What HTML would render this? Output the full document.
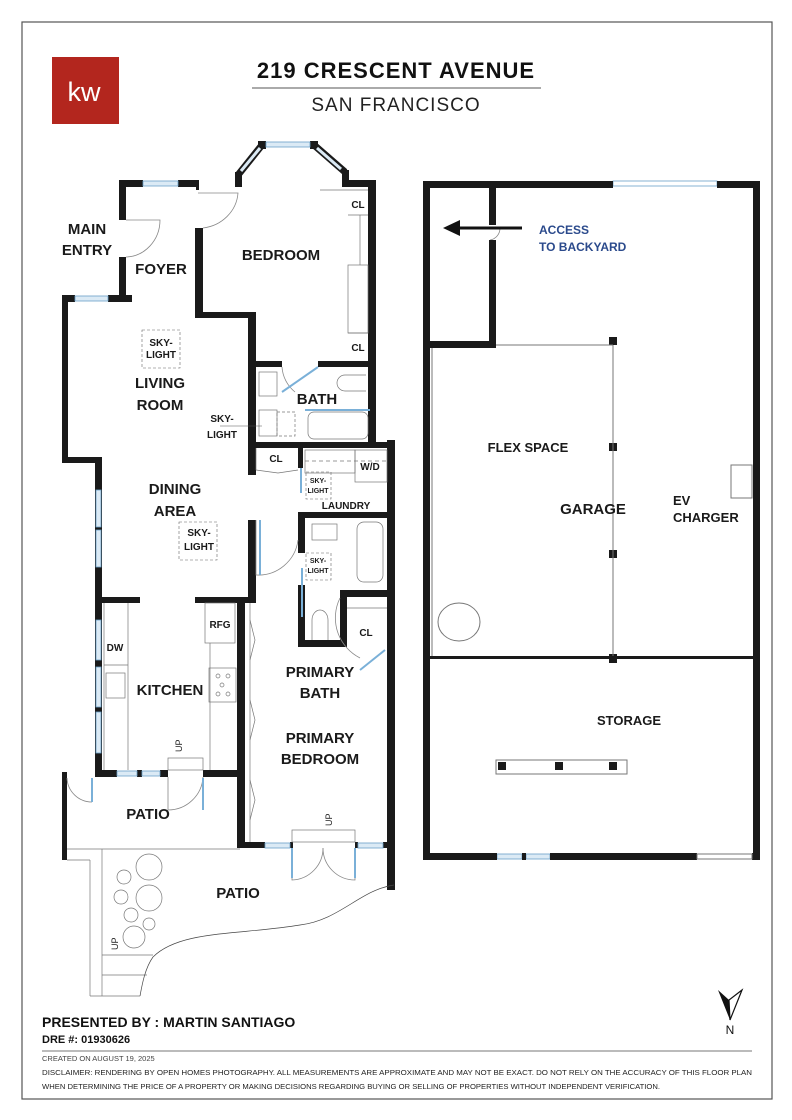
<!DOCTYPE html>
<html><head><meta charset="utf-8"><style>
html,body{margin:0;padding:0;background:#fff}
svg{display:block}
text{font-family:"Liberation Sans",sans-serif}
.rl{font-weight:bold;font-size:15px;fill:#1a1a1a;text-anchor:middle}
.sm{font-weight:bold;font-size:10px;fill:#1a1a1a;text-anchor:middle}
.tiny{font-weight:bold;font-size:7px;fill:#1a1a1a;text-anchor:middle}
.g{font-weight:bold;font-size:13px;fill:#1a1a1a;text-anchor:middle}
</style></head><body>
<svg width="792" height="1120" viewBox="0 0 792 1120" xmlns="http://www.w3.org/2000/svg">
<rect x="22" y="22" width="750" height="1077" fill="none" stroke="#555" stroke-width="1.2"/>
<!-- header -->
<rect x="52" y="57" width="67" height="67" fill="#b3261e"/>
<text x="84" y="101" font-size="27" fill="#fff" text-anchor="middle">kw</text>
<text x="396" y="78" font-size="22" font-weight="bold" text-anchor="middle" fill="#111" letter-spacing="1">219 CRESCENT AVENUE</text>
<line x1="252" y1="88" x2="541" y2="88" stroke="#555" stroke-width="1"/>
<text x="396" y="111" font-size="19" text-anchor="middle" fill="#222" letter-spacing="1">SAN FRANCISCO</text>

<g fill="#1a1a1a">
<rect x="119" y="180" width="24" height="7"/>
<rect x="178" y="180" width="20" height="7"/>
<rect x="196" y="180" width="3" height="10"/>
<rect x="235" y="172" width="7" height="15"/>
<rect x="342" y="180" width="34" height="7"/>
<rect x="342" y="170" width="7" height="17"/>
<rect x="258" y="141" width="8" height="8"/>
<rect x="310" y="141" width="8" height="8"/>
<rect x="119" y="180" width="7" height="40"/>
<rect x="119" y="257" width="7" height="45"/>
<rect x="62" y="295" width="13" height="7"/>
<rect x="108" y="295" width="24" height="7"/>
<rect x="62" y="295" width="6" height="168"/>
<rect x="62" y="457" width="40" height="6"/>
<rect x="95" y="457" width="7" height="320"/>
<rect x="195" y="228" width="8" height="90"/>
<rect x="195" y="312" width="61" height="6"/>
<rect x="248" y="312" width="8" height="163"/>
<rect x="248" y="520" width="8" height="83"/>
<rect x="368" y="180" width="8" height="268"/>
<rect x="248" y="361" width="34" height="6"/>
<rect x="318" y="361" width="58" height="6"/>
<rect x="248" y="442" width="147" height="6"/>
<rect x="387" y="440" width="8" height="450"/>
<rect x="298" y="448" width="5" height="20"/>
<rect x="298" y="512" width="97" height="6"/>
<rect x="298" y="512" width="7" height="41"/>
<rect x="298" y="585" width="7" height="62"/>
<rect x="298" y="640" width="49" height="7"/>
<rect x="340" y="590" width="7" height="57"/>
<rect x="340" y="590" width="55" height="7"/>
<rect x="95" y="597" width="45" height="6"/>
<rect x="195" y="597" width="61" height="6"/>
<rect x="237" y="597" width="8" height="251"/>
<rect x="95" y="770" width="22" height="7"/>
<rect x="137" y="770" width="5" height="7"/>
<rect x="160" y="770" width="8" height="7"/>
<rect x="203" y="770" width="42" height="7"/>
<rect x="62" y="772" width="5" height="88"/>
<rect x="240" y="842" width="25" height="6"/>
<rect x="290" y="842" width="3" height="6"/>
<rect x="355" y="842" width="3" height="6"/>
<rect x="383" y="842" width="11" height="6"/>
</g>
<!-- bay diagonals -->
<line x1="238" y1="175" x2="262" y2="145" stroke="#1a1a1a" stroke-width="7"/>
<line x1="314" y1="145" x2="345" y2="172" stroke="#1a1a1a" stroke-width="7"/>
<line x1="241" y1="171" x2="260" y2="148" stroke="#dbeaf5" stroke-width="3"/>
<line x1="317" y1="148" x2="341" y2="169" stroke="#dbeaf5" stroke-width="3"/>
<!-- windows -->
<g fill="#dbeaf5" stroke="#6aa0c8" stroke-width="0.8">
<rect x="143" y="181" width="35" height="5"/>
<rect x="75" y="296" width="33" height="5"/>
<rect x="266" y="142" width="44" height="5"/>
<rect x="96" y="490" width="5" height="37"/><rect x="96" y="530" width="5" height="37"/>
<rect x="96" y="620" width="5" height="40"/><rect x="96" y="667" width="5" height="40"/><rect x="96" y="712" width="5" height="41"/>
<rect x="117" y="771" width="20" height="5"/><rect x="142" y="771" width="18" height="5"/>
<rect x="265" y="843" width="25" height="5"/><rect x="358" y="843" width="25" height="5"/>
<rect x="497" y="854" width="25" height="5"/><rect x="526" y="854" width="24" height="5"/>
<rect x="613" y="181" width="104" height="5" fill="#fff"/>
</g>
<!-- doors -->
<g fill="none" stroke="#888" stroke-width="0.8">
<path d="M126,220 L160,220 A35,37 0 0 1 126,257"/>
<path d="M198,193 L238,193 A40,38 0 0 1 203,228"/>
<path d="M282,367 A35,35 0 0 0 295,392"/>
<path d="M256,520 L256,575 A40,40 0 0 0 298,540"/>
<path d="M67,778 A25,25 0 0 0 92,802"/>
<path d="M168,777 L168,810 A35,35 0 0 0 203,777"/>
<path d="M292,848 L292,880 A32,32 0 0 0 323,848"/>
<path d="M355,848 L355,880 A32,32 0 0 1 323,848"/>
<path d="M340,598 A45,45 0 0 0 360,658"/>
<path d="M490,228 L500,228 A12,12 0 0 1 490,240"/>
</g>
<g stroke="#7ab0d8" stroke-width="2" fill="none">
<line x1="282" y1="392" x2="318" y2="367"/>
<line x1="360" y1="670" x2="385" y2="650"/>
<line x1="92" y1="778" x2="92" y2="802"/>
<line x1="203" y1="778" x2="203" y2="810"/>
<line x1="292" y1="848" x2="292" y2="878"/>
<line x1="355" y1="848" x2="355" y2="878"/>
<line x1="260" y1="520" x2="260" y2="575"/>
<line x1="301" y1="468" x2="301" y2="493"/>
<line x1="302" y1="568" x2="302" y2="617"/>
<line x1="305" y1="410" x2="370" y2="410"/>
</g>
<g fill="none" stroke="#777" stroke-width="0.7">
<rect x="259" y="372" width="18" height="24"/>
<rect x="259" y="410" width="18" height="26"/>
<rect x="308" y="412" width="60" height="27" rx="6"/>
<path d="M366,375 L345,375 A8,8 0 0 0 345,391 L366,391"/>
<rect x="277" y="412" width="18" height="24" stroke-dasharray="3,2"/>
<line x1="320" y1="190" x2="368" y2="190"/><line x1="348" y1="215" x2="368" y2="215"/>
<line x1="360" y1="215" x2="360" y2="265"/>
<rect x="348" y="265" width="20" height="68"/>
<line x1="348" y1="333" x2="368" y2="333"/>
<line x1="256" y1="448" x2="256" y2="470"/>
<path d="M256,470 L278,473 L298,470"/>
<rect x="305" y="450" width="50" height="23"/>
<rect x="355" y="450" width="32" height="32"/>
<line x1="305" y1="461" x2="387" y2="461" stroke-dasharray="4,3"/>
<rect x="312" y="524" width="25" height="16"/>
<rect x="357" y="522" width="26" height="60" rx="7"/>
<path d="M312,640 L312,620 A8,10 0 0 1 328,620 L328,640"/>
<line x1="347" y1="608" x2="387" y2="608"/>
<line x1="104" y1="603" x2="104" y2="770"/><line x1="128" y1="603" x2="128" y2="770"/>
<line x1="104" y1="665" x2="128" y2="665"/>
<rect x="106" y="673" width="19" height="25"/>
<rect x="205" y="603" width="30" height="40"/>
<line x1="210" y1="643" x2="210" y2="770"/>
<rect x="209" y="668" width="27" height="34"/>
<circle cx="218" cy="676" r="2"/><circle cx="228" cy="676" r="2"/><circle cx="222" cy="685" r="2"/><circle cx="218" cy="694" r="2"/><circle cx="228" cy="694" r="2"/>
<rect x="168" y="758" width="35" height="12"/>
<line x1="250" y1="603" x2="250" y2="842"/>
<path d="M250,620 L255,640 L250,660 M250,700 L255,720 L250,740 M250,780 L255,800 L250,820"/>
<rect x="292" y="830" width="63" height="12"/>
<line x1="67" y1="849" x2="240" y2="849"/>
<line x1="90" y1="860" x2="90" y2="996"/><line x1="102" y1="849" x2="102" y2="996"/>
<line x1="67" y1="860" x2="90" y2="860"/>
<line x1="102" y1="955" x2="153" y2="955"/><line x1="102" y1="975" x2="147" y2="975"/><line x1="90" y1="996" x2="140" y2="996"/>
<path d="M394,885 C360,890 340,920 300,925 C240,935 180,930 153,957 C145,968 142,985 140,996" stroke="#444"/>
<circle cx="149" cy="867" r="13"/><circle cx="124" cy="877" r="7"/><circle cx="149" cy="898" r="13"/><circle cx="121" cy="897" r="7"/><circle cx="131" cy="915" r="7"/><circle cx="149" cy="924" r="6"/><circle cx="134" cy="937" r="11"/>
</g>
<g fill="none" stroke="#666" stroke-width="0.6" stroke-dasharray="3,2">
<rect x="142" y="330" width="38" height="38"/>
<rect x="179" y="522" width="38" height="38"/>
<rect x="306" y="472" width="25" height="27"/>
<rect x="306" y="553" width="25" height="27"/>
</g>
<line x1="220" y1="426" x2="262" y2="426" stroke="#555" stroke-width="0.6"/>
<text class="rl" x="87" y="234">MAIN</text><text class="rl" x="87" y="255">ENTRY</text>
<text class="rl" x="161" y="274">FOYER</text>
<text class="rl" x="281" y="260">BEDROOM</text>
<text class="sm" x="161" y="346">SKY-</text><text class="sm" x="161" y="358">LIGHT</text>
<text class="rl" x="160" y="388">LIVING</text><text class="rl" x="160" y="410">ROOM</text>
<text class="sm" x="222" y="422">SKY-</text><text class="sm" x="222" y="438">LIGHT</text>
<text class="rl" x="317" y="404">BATH</text>
<text class="sm" x="358" y="208">CL</text><text class="sm" x="358" y="351">CL</text>
<text class="sm" x="276" y="462">CL</text>
<text class="sm" x="370" y="470">W/D</text>
<text class="sm" x="346" y="509">LAUNDRY</text>
<text class="tiny" x="318" y="483">SKY-</text><text class="tiny" x="318" y="493">LIGHT</text>
<text class="tiny" x="318" y="563">SKY-</text><text class="tiny" x="318" y="573">LIGHT</text>
<text class="rl" x="175" y="494">DINING</text><text class="rl" x="175" y="516">AREA</text>
<text class="sm" x="199" y="536">SKY-</text><text class="sm" x="199" y="550">LIGHT</text>
<text class="sm" x="220" y="628">RFG</text>
<text class="sm" x="115" y="651">DW</text>
<text class="rl" x="170" y="695">KITCHEN</text>
<text class="sm" x="366" y="636">CL</text>
<text class="rl" x="320" y="677">PRIMARY</text><text class="rl" x="320" y="698">BATH</text>
<text class="rl" x="320" y="743">PRIMARY</text><text class="rl" x="320" y="764">BEDROOM</text>
<text class="rl" x="148" y="819">PATIO</text>
<text class="rl" x="238" y="898">PATIO</text>
<text font-size="9" transform="translate(182,752) rotate(-90)" fill="#222">UP</text>
<text font-size="9" transform="translate(332,826) rotate(-90)" fill="#222">UP</text>
<text font-size="9" transform="translate(118,950) rotate(-90)" fill="#222">UP</text>

<g fill="#1a1a1a">
<rect x="423" y="181" width="190" height="7"/>
<rect x="717" y="181" width="43" height="7"/>
<rect x="423" y="181" width="7" height="679"/>
<rect x="753" y="181" width="7" height="679"/>
<rect x="423" y="853" width="74" height="7"/>
<rect x="522" y="853" width="4" height="7"/>
<rect x="550" y="853" width="147" height="7"/>
<rect x="752" y="853" width="8" height="7"/>
<rect x="489" y="181" width="7" height="44"/>
<rect x="489" y="240" width="7" height="108"/>
<rect x="423" y="341" width="73" height="7"/>
<rect x="430" y="656" width="323" height="3"/>
<rect x="609" y="337" width="8" height="8"/><rect x="609" y="443" width="8" height="8"/><rect x="609" y="550" width="8" height="8"/><rect x="609" y="654" width="8" height="9"/>
<rect x="498" y="762" width="8" height="8"/><rect x="555" y="762" width="8" height="8"/><rect x="609" y="762" width="8" height="8"/>
</g>
<g fill="none" stroke="#777" stroke-width="1">
<line x1="496" y1="345" x2="613" y2="345"/>
<line x1="432" y1="348" x2="432" y2="656"/>
<line x1="613" y1="345" x2="613" y2="656"/>
<rect x="731" y="465" width="21" height="33"/>
<ellipse cx="459" cy="622" rx="21" ry="19"/>
<rect x="496" y="760" width="131" height="14"/>
<rect x="697" y="854" width="55" height="5"/>
</g>
<line x1="522" y1="228" x2="458" y2="228" stroke="#111" stroke-width="3"/>
<polygon points="443,228 460,220 460,236" fill="#111"/>
<text x="539" y="234" font-size="12" font-weight="bold" fill="#2b4a8c">ACCESS</text>
<text x="539" y="251" font-size="12" font-weight="bold" fill="#2b4a8c">TO BACKYARD</text>
<text class="g" x="528" y="452">FLEX SPACE</text>
<text x="593" y="514" font-size="15" font-weight="bold" fill="#1a1a1a" text-anchor="middle">GARAGE</text>
<text x="673" y="505" font-size="13" font-weight="bold" fill="#1a1a1a">EV</text>
<text x="673" y="522" font-size="13" font-weight="bold" fill="#1a1a1a">CHARGER</text>
<text class="g" x="629" y="725">STORAGE</text>

<polygon points="718,990 729,1000 730,1020" fill="#111"/>
<polygon points="742,990 729,1000 730,1020" fill="none" stroke="#111" stroke-width="1.2"/>
<text x="730" y="1034" font-size="12" text-anchor="middle" fill="#111">N</text>

<text x="42" y="1027" font-size="14" font-weight="bold" fill="#111">PRESENTED BY : MARTIN SANTIAGO</text>
<text x="42" y="1043" font-size="11" font-weight="bold" fill="#111">DRE #: 01930626</text>
<line x1="42" y1="1051" x2="752" y2="1051" stroke="#777" stroke-width="1"/>
<text x="42" y="1061" font-size="7.5" fill="#444">CREATED ON AUGUST 19, 2025</text>
<text x="42" y="1075" font-size="7.2" fill="#222" textLength="710" lengthAdjust="spacingAndGlyphs">DISCLAIMER: RENDERING BY OPEN HOMES PHOTOGRAPHY. ALL MEASUREMENTS ARE APPROXIMATE AND MAY NOT BE EXACT. DO NOT RELY ON THE ACCURACY OF THIS FLOOR PLAN</text>
<text x="42" y="1089" font-size="7.2" fill="#222" textLength="618" lengthAdjust="spacingAndGlyphs">WHEN DETERMINING THE PRICE OF A PROPERTY OR MAKING DECISIONS REGARDING BUYING OR SELLING OF PROPERTIES WITHOUT INDEPENDENT VERIFICATION.</text>
</svg>
</body></html>
